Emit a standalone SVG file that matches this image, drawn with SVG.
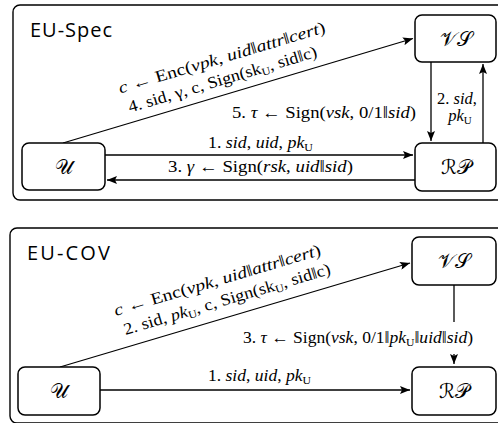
<svg xmlns="http://www.w3.org/2000/svg" width="498" height="423" viewBox="0 0 498 423">
  <style>
    .frame { fill: none; stroke: #000; stroke-width: 1.4; }
    .box { fill: #fff; stroke: #000; stroke-width: 1.5; }
    .edge { fill: none; stroke: #000; stroke-width: 1.3; }
    .title { font-family: "Open Sans", "Liberation Sans", sans-serif; font-size: 20px; fill: #000; }
    .lbl { font-family: "Liberation Serif", "DejaVu Serif", serif; font-size: 16.5px; fill: #000; }
    .v { font-style: italic; }
    .sub { font-size: 11px; }
    .cal { font-family: "DejaVu Serif", "DejaVu Sans", serif; font-size: 20px; font-weight: normal; fill: #000; text-anchor: middle; }
  </style>
  <defs>
    <marker id="ah" viewBox="0 0 10 8" refX="10" refY="4" markerWidth="10" markerHeight="8" markerUnits="userSpaceOnUse" orient="auto">
      <path d="M0,0 L10,4 L0,8 L2,4 Z" fill="#000"/>
    </marker>
  </defs>

  <!-- ===== EU-Spec ===== -->
  <rect class="frame" x="13" y="5" width="500" height="195" rx="7"/>
  <text class="title" x="30" y="37" textLength="82">EU-Spec</text>

  <g id="spec-edges">
    <path class="edge" d="M63,143 L413,38.5" marker-end="url(#ah)"/>
    <path class="edge" d="M105,155 L413,155" marker-end="url(#ah)"/>
    <path class="edge" d="M415,180 L107,180" marker-end="url(#ah)"/>
    <path class="edge" d="M431,62 L431,141" marker-end="url(#ah)"/>
    <path class="edge" d="M483,143 L483,64" marker-end="url(#ah)"/>

    <g transform="translate(63,143) rotate(-16.6)">
      <text class="lbl" x="69" y="-31" textLength="215" lengthAdjust="spacingAndGlyphs"><tspan class="v">c</tspan> ← Enc(<tspan class="v">vpk</tspan>, <tspan class="v">uid</tspan>‖<tspan class="v">attr</tspan>‖<tspan class="v">cert</tspan>)</text>
      <text class="lbl" x="73" y="-10" textLength="196" lengthAdjust="spacingAndGlyphs">4. sid, γ, c, Sign(sk<tspan class="sub" dy="3">U</tspan><tspan dy="-3">, sid‖c)</tspan></text>
    </g>
    <text class="lbl" x="232" y="118" textLength="184" lengthAdjust="spacingAndGlyphs">5. <tspan class="v">τ</tspan> ← Sign(<tspan class="v">vsk</tspan>, 0/1‖<tspan class="v">sid</tspan>)</text>
    <text class="lbl" x="208" y="148" textLength="105" lengthAdjust="spacingAndGlyphs">1. <tspan class="v">sid</tspan>, <tspan class="v">uid</tspan>, <tspan class="v">pk</tspan><tspan class="sub" dy="3">U</tspan></text>
    <text class="lbl" x="168" y="172" textLength="185" lengthAdjust="spacingAndGlyphs">3. <tspan class="v">γ</tspan> ← Sign(<tspan class="v">rsk</tspan>, <tspan class="v">uid</tspan>‖<tspan class="v">sid</tspan>)</text>
    <text class="lbl" x="457" y="104" text-anchor="middle">2. <tspan class="v">sid</tspan>,</text>
    <text class="lbl" x="460" y="121" text-anchor="middle"><tspan class="v">pk</tspan><tspan class="sub" dy="3">U</tspan></text>
  </g>

  <g id="spec-user">
    <rect class="box" x="22" y="143" width="83" height="47" rx="7"/>
    <text class="cal" x="64" y="174">𝒰</text>
  </g>
  <g id="spec-vs">
    <rect class="box" x="415" y="15" width="81" height="47" rx="7"/>
    <text class="cal" x="456" y="46">𝒱𝒮</text>
  </g>
  <g id="spec-rp">
    <rect class="box" x="415" y="143" width="81" height="48" rx="7"/>
    <text class="cal" x="456" y="174">ℛ𝒫</text>
  </g>

  <!-- ===== EU-COV ===== -->
  <rect class="frame" x="10" y="228" width="503" height="195" rx="7"/>
  <text class="title" x="27" y="260" textLength="83">EU-COV</text>

  <g id="cov-edges">
    <path class="edge" d="M60,367 L410,263" marker-end="url(#ah)"/>
    <path class="edge" d="M100,390 L410,390" marker-end="url(#ah)"/>
    <path class="edge" d="M454,285 L454,322"/>
    <path class="edge" d="M454,354 L454,364" marker-end="url(#ah)"/>

    <g transform="translate(60,367) rotate(-16.55)">
      <text class="lbl" x="68" y="-33" textLength="215" lengthAdjust="spacingAndGlyphs"><tspan class="v">c</tspan> ← Enc(<tspan class="v">vpk</tspan>, <tspan class="v">uid</tspan>‖<tspan class="v">attr</tspan>‖<tspan class="v">cert</tspan>)</text>
      <text class="lbl" x="72" y="-12" textLength="215" lengthAdjust="spacingAndGlyphs">2. sid, <tspan class="v">pk</tspan><tspan class="sub" dy="3">U</tspan><tspan dy="-3">, c, Sign(sk</tspan><tspan class="sub" dy="3">U</tspan><tspan dy="-3">, sid‖c)</tspan></text>
    </g>
    <text class="lbl" x="243" y="343" textLength="230" lengthAdjust="spacingAndGlyphs">3. <tspan class="v">τ</tspan> ← Sign(<tspan class="v">vsk</tspan>, 0/1‖<tspan class="v">pk</tspan><tspan class="sub" dy="3">U</tspan><tspan dy="-3">‖</tspan><tspan class="v">uid</tspan>‖<tspan class="v">sid</tspan>)</text>
    <text class="lbl" x="208" y="381" textLength="103" lengthAdjust="spacingAndGlyphs">1. <tspan class="v">sid</tspan>, <tspan class="v">uid</tspan>, <tspan class="v">pk</tspan><tspan class="sub" dy="3">U</tspan></text>
  </g>

  <g id="cov-user">
    <rect class="box" x="18" y="367" width="82" height="48" rx="7"/>
    <text class="cal" x="59" y="398">𝒰</text>
  </g>
  <g id="cov-vs">
    <rect class="box" x="412" y="237" width="84" height="48" rx="7"/>
    <text class="cal" x="454" y="268">𝒱𝒮</text>
  </g>
  <g id="cov-rp">
    <rect class="box" x="412" y="367" width="84" height="48" rx="7"/>
    <text class="cal" x="454" y="398">ℛ𝒫</text>
  </g>
</svg>
